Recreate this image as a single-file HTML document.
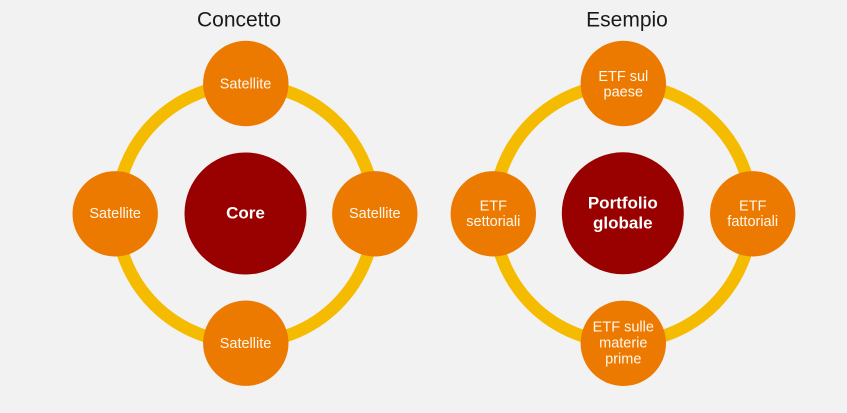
<!DOCTYPE html>
<html>
<head>
<meta charset="utf-8">
<style>
  html, body { margin: 0; padding: 0; background: #f2f2f2; }
  body { width: 847px; height: 413px; overflow: hidden; }
  svg { display: block; }
  text { font-family: "Liberation Sans", "DejaVu Sans", sans-serif; }
  .t { font-size: 21px; fill: #1a1a1a; }
  .s { font-size: 14.5px; fill: #fff6ec; }
  .c { font-size: 17px; font-weight: bold; fill: #ffffff; }
</style>
</head>
<body>
<svg width="847" height="413" viewBox="0 0 847 413" xmlns="http://www.w3.org/2000/svg">
  <rect x="0" y="0" width="847" height="413" fill="#f2f2f2"/>

  <!-- LEFT: Concetto -->
  <text class="t" x="239" y="26.5" text-anchor="middle">Concetto</text>
  <circle cx="245.5" cy="213.5" r="129" fill="none" stroke="#f5bb00" stroke-width="12.5"/>
  <circle cx="245.5" cy="213.5" r="61" fill="#990000"/>
  <text class="c" x="245.5" y="218.5" text-anchor="middle">Core</text>

  <circle cx="245.8" cy="83.5" r="42.7" fill="#ec7a00"/>
  <text class="s" x="245.5" y="88.5" text-anchor="middle">Satellite</text>

  <circle cx="115.2" cy="213.8" r="42.7" fill="#ec7a00"/>
  <text class="s" x="115.2" y="218" text-anchor="middle">Satellite</text>

  <circle cx="374.8" cy="213.8" r="42.7" fill="#ec7a00"/>
  <text class="s" x="374.8" y="218" text-anchor="middle">Satellite</text>

  <circle cx="245.8" cy="343.2" r="42.7" fill="#ec7a00"/>
  <text class="s" x="245.5" y="348" text-anchor="middle">Satellite</text>

  <!-- RIGHT: Esempio -->
  <text class="t" x="627" y="26.5" text-anchor="middle">Esempio</text>
  <circle cx="623" cy="213.5" r="129" fill="none" stroke="#f5bb00" stroke-width="12.5"/>
  <circle cx="622.8" cy="213.3" r="61" fill="#990000"/>
  <text class="c" x="622.8" y="208.3" text-anchor="middle">Portfolio</text>
  <text class="c" x="622.8" y="228.3" text-anchor="middle">globale</text>

  <circle cx="623.3" cy="83.5" r="42.7" fill="#ec7a00"/>
  <text class="s" x="623.3" y="81" text-anchor="middle">ETF sul</text>
  <text class="s" x="623.3" y="96.7" text-anchor="middle">paese</text>

  <circle cx="493.3" cy="213.8" r="42.7" fill="#ec7a00"/>
  <text class="s" x="493.3" y="210.7" text-anchor="middle">ETF</text>
  <text class="s" x="493.3" y="226" text-anchor="middle">settoriali</text>

  <circle cx="752.7" cy="213.8" r="42.7" fill="#ec7a00"/>
  <text class="s" x="752.7" y="210.7" text-anchor="middle">ETF</text>
  <text class="s" x="752.7" y="226" text-anchor="middle">fattoriali</text>

  <circle cx="623.3" cy="343.3" r="42.7" fill="#ec7a00"/>
  <text class="s" x="623.3" y="331.7" text-anchor="middle">ETF sulle</text>
  <text class="s" x="623.3" y="347.5" text-anchor="middle">materie</text>
  <text class="s" x="623.3" y="363.5" text-anchor="middle">prime</text>
</svg>
</body>
</html>
